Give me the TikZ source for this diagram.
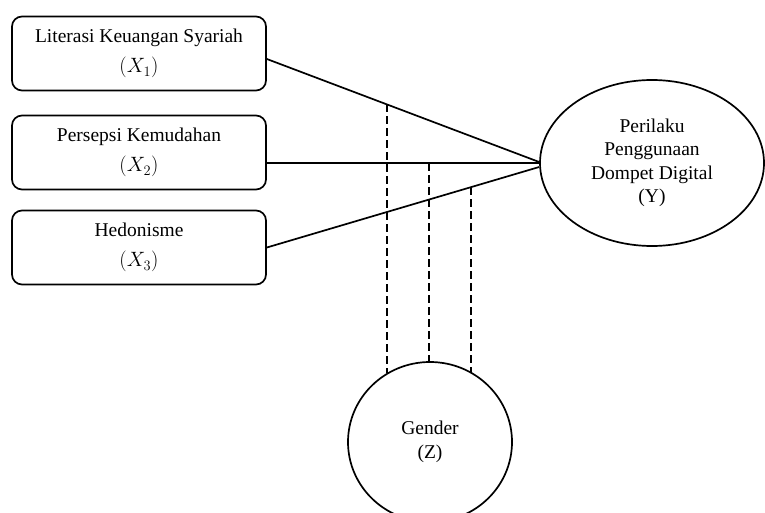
\documentclass[tikz,border=0pt]{standalone}
\usepackage{fontspec}
\setmainfont{Liberation Serif}
\usetikzlibrary{shapes.geometric}
\begin{document}
\begin{tikzpicture}[x=1pt,y=-1pt,
  varbox/.style={draw,line width=1.7pt,rounded corners=10pt,minimum width=254pt,minimum height=74pt,align=center,inner sep=0pt,font=\fontsize{19.5}{23.5}\selectfont},
  varell/.style={draw,line width=1.7pt,ellipse,inner sep=0pt,align=center,font=\fontsize{19.5}{23.5}\selectfont},
  link/.style={line width=1.7pt},
  modlink/.style={line width=1.9pt,dash pattern=on 8pt off 4pt}]
\useasboundingbox (0,0) rectangle (765,513);
\clip (0,0) rectangle (765,513);
\node[varbox] (x1) at (139,53.5) {Literasi Keuangan Syariah\\[7pt]$(X_1)$};
\node[varbox] (x2) at (139,152.5) {Persepsi Kemudahan\\[7pt]$(X_2)$};
\node[varbox] (x3) at (139,247.5) {Hedonisme\\[7pt]$(X_3)$};
\node[varell,minimum width=224pt,minimum height=166pt] (y) at (652,163) {Perilaku\\Penggunaan\\Dompet Digital\\(Y)};
\node[varell,minimum width=164pt,minimum height=160pt] (g) at (430,442) {Gender\\(Z)};
\draw[link] ([yshift=-5.5pt]x1.east) -- coordinate[pos=0.4416] (d1) ([yshift=1pt]y.west);
\draw[link] ([yshift=-10.5pt]x2.east) -- coordinate[pos=0.595] (d2) (y.west);
\draw[link] (x3.east) -- ([yshift=-4pt]y.west);
\coordinate (d3) at (471,187);
\draw[modlink] (d1) -- (d1 |- g.122.7);
\draw[modlink] (d2) -- (d2 |- g.north);
\draw[modlink] (d3) -- (d3 |- g.59);
\end{tikzpicture}
\end{document}
